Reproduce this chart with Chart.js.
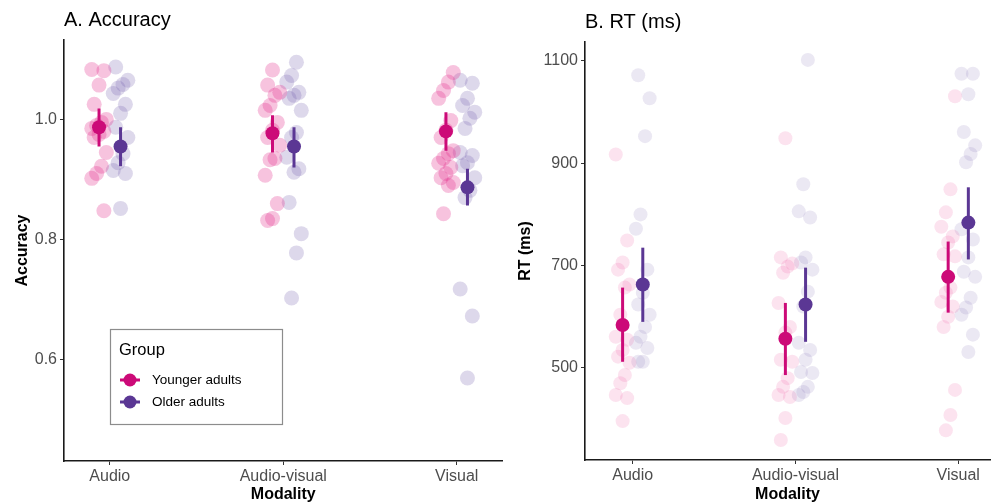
<!DOCTYPE html>
<html>
<head>
<meta charset="utf-8">
<script src="https://cdn.jsdelivr.net/npm/chart.js@4.4.1/dist/chart.umd.min.js"></script>
<style>
    html, body { margin: 0; padding: 0; background: #fff; }
    #wrap { position: relative; width: 997px; height: 504px; }
    #accWrap { position: absolute; left: 0; top: 0; width: 510px; height: 504px; }
    #rtWrap { position: absolute; left: 505px; top: 0; width: 492px; height: 504px; }
</style>
</head>
<body>
<div id="wrap">
    <div id="accWrap"><canvas id="acc" width="510" height="504"></canvas></div>
    <div id="rtWrap"><canvas id="rt" width="492" height="504"></canvas></div>
</div>
<script>
const modalities = ['Audio', 'Audio-visual', 'Visual'];
const groups = ['Younger adults', 'Older adults'];

// accuracy per participant (Audio, Audio-visual, Visual)
const accYoungAudio = [1.083, 1.081, 1.057, 1.025, 1.0, 0.995, 0.99, 0.985, 0.98, 0.975, 0.97, 0.945, 0.922, 0.91, 0.902, 0.848];
const accYoungAV = [1.082, 1.057, 1.045, 1.04, 1.023, 1.015, 0.995, 0.982, 0.97, 0.957, 0.935, 0.933, 0.907, 0.86, 0.835, 0.832];
const accYoungVisual = [1.078, 1.062, 1.048, 1.035, 0.998, 0.982, 0.97, 0.948, 0.943, 0.935, 0.927, 0.92, 0.91, 0.903, 0.895, 0.89, 0.843];
const accOldAudio = [1.087, 1.065, 1.058, 1.052, 1.043, 1.025, 1.01, 0.987, 0.97, 0.943, 0.928, 0.915, 0.91, 0.852];
const accOldAV = [1.095, 1.073, 1.062, 1.045, 1.04, 1.035, 1.015, 0.978, 0.97, 0.937, 0.918, 0.912, 0.862, 0.81, 0.778, 0.703];
const accOldVisual = [1.065, 1.06, 1.035, 1.023, 1.012, 1.002, 0.985, 0.945, 0.94, 0.928, 0.923, 0.903, 0.882, 0.87, 0.718, 0.673, 0.57];

// accuracy group means with interval
const accYoungMean = [0.987, 0.977, 0.980];
const accYoungLo = [0.955, 0.945, 0.948];
const accYoungHi = [1.018, 1.007, 1.012];
const accOldMean = [0.955, 0.955, 0.887];
const accOldLo = [0.922, 0.920, 0.857];
const accOldHi = [0.987, 0.987, 0.918];

// RT per participant
const rtYoungAudio = [917, 749, 706, 692, 663, 657, 604, 561, 555, 535, 522, 510, 486, 470, 447, 441, 396];
const rtYoungAV = [949, 716, 704, 698, 686, 627, 580, 569, 516, 512, 480, 463, 447, 443, 402, 359];
const rtYoungVisual = [1031, 849, 804, 776, 757, 745, 722, 718, 657, 647, 629, 620, 600, 580, 457, 408, 378];
const rtOldAudio = [1072, 1027, 953, 800, 772, 692, 647, 624, 604, 580, 561, 549, 539, 512, 512];
const rtOldAV = [1102, 859, 806, 794, 716, 706, 692, 649, 620, 549, 535, 516, 492, 490, 463, 453, 447];
const rtOldVisual = [1075, 1075, 1035, 961, 935, 918, 902, 771, 751, 716, 688, 678, 637, 618, 604, 565, 531];

const rtYoungMean = [584, 557, 678];
const rtYoungLo = [512, 486, 608];
const rtYoungHi = [657, 627, 747];
const rtOldMean = [663, 624, 784];
const rtOldLo = [590, 551, 712];
const rtOldHi = [735, 696, 853];

const accTicks = [0.6, 0.8, 1.0];
const rtTicks = [500, 700, 900, 1100];

const FONT = '"Liberation Sans", Arial, sans-serif';
const meanColors = ['#CC0A78', '#5B3794'];
const dodge = 0.062;

function jitter(i) {
    return (((i * 5) % 7) - 3) / 3 * 0.042;
}

function rawPoints(lists, side) {
    let pts = [];
    lists.forEach((vals, m) => {
        vals.forEach((v, i) => {
            pts.push({x: m + 1 + side * dodge + jitter(i + m * 2 + (side > 0 ? 3 : 0)), y: v});
        });
    });
    return pts;
}

function groupDatasets(g, lists, mean, lo, hi, rawColor, rawRadius) {
    let side = g === 0 ? -1 : 1;
    let datasets = [];
    datasets.push({
        label: groups[g],
        data: mean.map((v, m) => ({x: m + 1 + side * dodge, y: v})),
        backgroundColor: meanColors[g],
        borderWidth: 0,
        pointRadius: 7,
        order: 1
    });
    mean.forEach((v, m) => {
        datasets.push({
            type: 'line',
            data: [{x: m + 1 + side * dodge, y: lo[m]}, {x: m + 1 + side * dodge, y: hi[m]}],
            borderColor: meanColors[g],
            borderWidth: 3,
            pointRadius: 0,
            showLine: true,
            order: 2
        });
    });
    datasets.push({
        data: rawPoints(lists, side),
        backgroundColor: rawColor,
        borderWidth: 0,
        pointRadius: rawRadius,
        order: 3
    });
    return datasets;
}

const panelTitle = {
    id: 'panelTitle',
    afterDraw(chart, args, opts) {
        const ctx = chart.ctx;
        ctx.save();
        ctx.font = '20px ' + FONT;
        ctx.fillStyle = '#000';
        ctx.textBaseline = 'middle';
        ctx.textAlign = 'left';
        ctx.fillText(opts.text, chart.chartArea.left, opts.y);
        ctx.restore();
    }
};

const groupLegend = {
    id: 'groupLegend',
    afterDraw(chart, args, opts) {
        if (!opts.show) return;
        const ctx = chart.ctx;
        const a = chart.chartArea;
        const x0 = a.left + 46, y0 = 329, w = 172, h = 95;
        ctx.save();
        ctx.strokeStyle = '#8c8c8c';
        ctx.lineWidth = 1.2;
        ctx.strokeRect(x0 + 0.5, y0 + 0.5, w, h);
        ctx.fillStyle = '#000';
        ctx.textBaseline = 'middle';
        ctx.font = '16.5px ' + FONT;
        ctx.fillText('Group', x0 + 9, y0 + 21);
        ctx.font = '13.5px ' + FONT;
        groups.forEach((name, g) => {
            let cy = y0 + 51 + g * 22;
            let cx = x0 + 20;
            ctx.strokeStyle = meanColors[g];
            ctx.lineWidth = 3;
            ctx.beginPath();
            ctx.moveTo(cx - 10, cy);
            ctx.lineTo(cx + 10, cy);
            ctx.stroke();
            ctx.fillStyle = meanColors[g];
            ctx.beginPath();
            ctx.arc(cx, cy, 6.5, 0, Math.PI * 2);
            ctx.fill();
            ctx.fillStyle = '#000';
            ctx.fillText(name, x0 + 42, cy);
        });
        ctx.restore();
    }
};

function makePanel(canvas, cfg) {
    const config = {
        type: 'scatter',
        data: {
            datasets: [
                ...groupDatasets(0, cfg.young, cfg.youngMean, cfg.youngLo, cfg.youngHi, cfg.rawColors[0], cfg.rawRadius),
                ...groupDatasets(1, cfg.old, cfg.oldMean, cfg.oldLo, cfg.oldHi, cfg.rawColors[1], cfg.rawRadius)
            ]
        },
        options: {
            responsive: false,
            animation: false,
            events: [],
            layout: {
                padding: {left: 0, right: cfg.padRight, top: cfg.padTop, bottom: 0}
            },
            plugins: {
                legend: {display: false},
                tooltip: {enabled: false},
                panelTitle: {text: cfg.title, y: cfg.titleY},
                groupLegend: {show: cfg.legend}
            },
            scales: {
                x: {
                    type: 'linear',
                    min: cfg.xMin,
                    max: cfg.xMax,
                    afterBuildTicks: s => { s.ticks = modalities.map((_, i) => ({value: i + 1})); },
                    afterFit: s => { s.height = cfg.xHeight; },
                    ticks: {
                        callback: v => modalities[v - 1],
                        color: '#4d4d4d',
                        font: {family: FONT, size: 16},
                        padding: 2,
                        maxRotation: 0
                    },
                    grid: {display: true, drawOnChartArea: false, drawTicks: true, tickLength: 4, color: '#333'},
                    border: {display: true, color: '#1a1a1a', width: 1.6},
                    title: {
                        display: true,
                        text: 'Modality',
                        color: '#000',
                        font: {family: FONT, size: 16, weight: 'bold'},
                        padding: {top: 0, bottom: 0}
                    }
                },
                y: {
                    type: 'linear',
                    min: cfg.yMin,
                    max: cfg.yMax,
                    afterBuildTicks: s => { s.ticks = cfg.yTicks.map(v => ({value: v})); },
                    afterFit: s => { s.width = cfg.yWidth; },
                    ticks: {
                        callback: cfg.yFormat,
                        color: '#4d4d4d',
                        font: {family: FONT, size: 16},
                        padding: 3
                    },
                    grid: {display: true, drawOnChartArea: false, drawTicks: true, tickLength: 4, color: '#333'},
                    border: {display: true, color: '#1a1a1a', width: 1.6},
                    title: {
                        display: true,
                        text: cfg.yTitle,
                        color: '#000',
                        font: {family: FONT, size: 16, weight: 'bold'},
                        padding: {top: cfg.yTitlePad, bottom: 0}
                    }
                }
            }
        },
        plugins: [panelTitle, groupLegend]
    };
    return new Chart(canvas, config);
}

makePanel(document.getElementById('acc'), {
    title: 'A. Accuracy', titleY: 20, legend: true,
    young: [accYoungAudio, accYoungAV, accYoungVisual],
    old: [accOldAudio, accOldAV, accOldVisual],
    youngMean: accYoungMean, youngLo: accYoungLo, youngHi: accYoungHi,
    oldMean: accOldMean, oldLo: accOldLo, oldHi: accOldHi,
    rawColors: ['rgba(228,40,135,0.28)', 'rgba(112,92,172,0.24)'],
    rawRadius: 7.5,
    xMin: 0.736, xMax: 3.264, yMin: 0.432, yMax: 1.132,
    yTicks: accTicks, yFormat: v => v.toFixed(1), yTitle: 'Accuracy', yTitlePad: 13,
    yWidth: 64, xHeight: 43, padTop: 40, padRight: 7
});

makePanel(document.getElementById('rt'), {
    title: 'B. RT (ms)', titleY: 22, legend: false,
    young: [rtYoungAudio, rtYoungAV, rtYoungVisual],
    old: [rtOldAudio, rtOldAV, rtOldVisual],
    youngMean: rtYoungMean, youngLo: rtYoungLo, youngHi: rtYoungHi,
    oldMean: rtOldMean, oldLo: rtOldLo, oldHi: rtOldHi,
    rawColors: ['rgba(235,60,140,0.14)', 'rgba(112,92,172,0.14)'],
    rawRadius: 7,
    xMin: 0.707, xMax: 3.195, yMin: 320, yMax: 1137,
    yTicks: rtTicks, yFormat: v => String(v), yTitle: 'RT (ms)', yTitlePad: 11,
    yWidth: 80, xHeight: 44, padTop: 42, padRight: 4
});
</script>
</body>
</html>
